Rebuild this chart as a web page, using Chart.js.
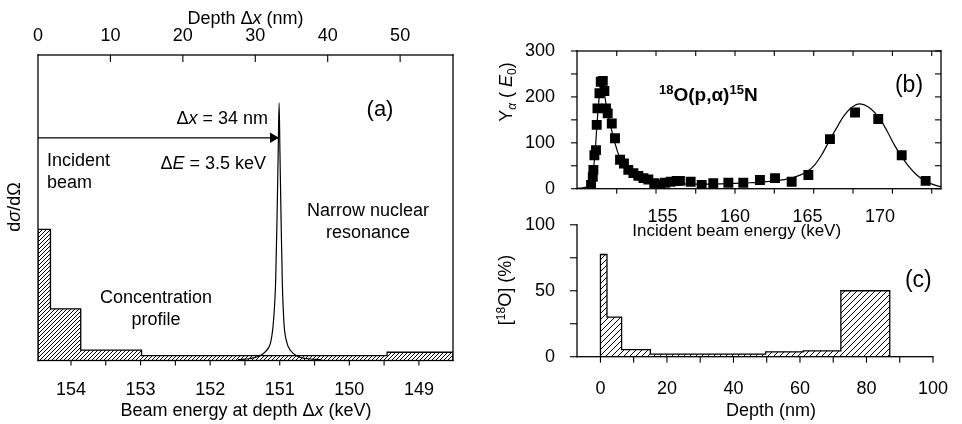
<!DOCTYPE html>
<html>
<head>
<meta charset="utf-8">
<script src="https://cdn.jsdelivr.net/npm/chart.js@4.4.1/dist/chart.umd.min.js"></script>
<style>
  body { margin: 0; background: #fff; }
  #wrap { position: relative; width: 962px; height: 424px; }
  canvas { position: absolute; }
  #chartA { left: 0; top: 0; }
  #chartB { left: 480px; top: 0; }
  #chartC { left: 480px; top: 200px; }
</style>
</head>
<body>
<div id="wrap">
  <canvas id="chartA" width="480" height="424"></canvas>
  <canvas id="chartB" width="482" height="245"></canvas>
  <canvas id="chartC" width="482" height="224"></canvas>
</div>
<script>
// ---------- data ----------

// (a) concentration profile in depth bins (nm), arbitrary units
var depthEdgesA = [0, 1.72, 5.9, 14.3, 48.2, 57.3];
var profileA = [42.9, 16.9, 3.4, 1.6, 2.7];
// (a) narrow resonance line vs beam energy (keV)
var resEnergyA = [151.6, 151.428, 151.313, 151.198, 151.126, 151.091, 151.059, 151.04, 151.022, 151.009,
                  150.997, 150.98, 150.963, 150.94, 150.904, 150.839, 150.739, 150.624, 150.4];
var resYieldA = [0.3, 0.65, 1.3, 3.1, 6.4, 12.6, 25.7, 45.3, 68.2, 84.3,
                 68.2, 45.3, 25.7, 12.6, 6.4, 3.1, 1.3, 0.65, 0.3];
var arrowDepthA = [0, 33.3];
var arrowLevelA = 72.9;
var arrowHeadA = 32.45;
var energyTicksA = [154, 153, 152, 151, 150, 149];
var energyMarksA = [154, 153.5, 153, 152.5, 152, 151.5, 151, 150.5, 150, 149.5, 149];
var depthTicksA = [0, 10, 20, 30, 40, 50];
var depthMarksA = [10, 20, 30, 40, 50];

// (b) measured alpha yield (points) and fit (line)
var beamE = [150.07, 150.19, 150.23, 150.30, 150.41, 150.46, 150.51, 150.65, 150.74, 150.88,
             150.99, 151.10, 151.22, 151.50, 151.72, 152.07, 152.34, 152.64, 152.99, 153.33,
             153.68, 154.02, 154.43, 154.83, 155.17, 155.56, 155.98, 156.20, 156.94, 157.70,
             158.50, 159.54, 160.57, 161.72, 162.76, 163.91, 165.06, 166.55, 168.28, 169.88,
             171.50, 173.15];
var yieldB = [8, 26, 41, 73, 84, 139, 175, 208, 233, 235,
              213, 175, 164, 142, 110, 63, 55, 41, 34, 28,
              23, 20, 12, 10, 13, 15, 17, 17, 15, 8,
              12, 13, 13, 19, 23, 15, 30, 108, 166, 152,
              73, 17];
var fitE = [149.1, 149.5, 149.8, 150.0, 150.2, 150.35, 150.5, 150.65, 150.8, 150.95,
            151.1, 151.3, 151.5, 151.75, 152.0, 152.5, 153.0, 153.5, 154.0, 154.5,
            155, 156, 157, 158, 159, 160, 161, 162, 163, 164,
            165, 165.5, 166, 166.5, 167, 167.5, 168, 168.6, 169.2, 170,
            170.5, 171, 171.5, 172, 172.5, 173, 173.5, 174.2];
var fitB = [1, 2, 5, 12, 35, 80, 150, 205, 225, 215,
            185, 152, 126, 96, 72, 48, 36, 28, 22, 17,
            14, 12, 10, 10, 10.5, 11.5, 13, 15, 18, 24,
            38, 52, 75, 104, 132, 158, 176, 185, 178, 152,
            125, 95, 70, 48, 31, 19, 11, 4];
var energyTicksB = [155, 160, 165, 170];
var energyMarksB = [151.84, 154.55, 157.29, 160, 162.71, 165.43, 168.14, 170.86, 173.57];
var yieldTicksB = [0, 100, 200, 300];
var yieldMarksB = [0, 50, 100, 150, 200, 250, 300];

// (c) 18O concentration depth profile
var depthEdgesC = [0, 1.96, 6.36, 15.0, 49.7, 61.0, 72.3, 87.0];
var conc18O = [77.5, 30, 5.4, 2.0, 3.7, 4.4, 50];
var depthTicksC = [0, 20, 40, 60, 80, 100];
var depthMarksC = [0, 10, 20, 30, 40, 50, 60, 70, 80, 90, 100];
var concTicksC = [0, 50, 100];
var concMarksC = [0, 25, 50, 75, 100];

// ---------- helpers ----------
var FONT = '"Liberation Sans", Arial, Helvetica, sans-serif';
Chart.defaults.font.family = FONT;
Chart.defaults.font.size = 18;
Chart.defaults.color = '#000';

function xy(xs, ys) {
    return xs.map(function (x, i) { return { x: x, y: ys[i] }; });
}

// stepped outline of a histogram, closed down to zero at both ends
function steps(edges, vals) {
    var pts = [{ x: edges[0], y: 0 }];
    vals.forEach(function (v, i) { pts.push({ x: edges[i], y: v }); });
    pts.push({ x: edges[edges.length - 1], y: 0 });
    return pts;
}

function hatch(step) {
    var c = document.createElement('canvas');
    c.width = c.height = step;
    var g = c.getContext('2d');
    g.strokeStyle = '#000';
    g.lineWidth = 1;
    g.beginPath();
    g.moveTo(0, step); g.lineTo(step, 0);
    g.moveTo(-1, 1); g.lineTo(1, -1);
    g.moveTo(step - 1, step + 1); g.lineTo(step + 1, step - 1);
    g.stroke();
    return g.createPattern(c, 'repeat');
}

function fixedTicks(vals) {
    return function (s) { s.ticks = vals.map(function (v) { return { value: v }; }); };
}

function axis(extra) {
    return Object.assign({
        type: 'linear',
        grid: { display: false },
        border: { display: false }
    }, extra);
}

// text with italic / super / subscript pieces
function drawRich(ctx, it) {
    var size = it.size || 18;
    ctx.save();
    ctx.translate(it.x, it.y);
    if (it.rot) ctx.rotate(it.rot * Math.PI / 180);
    var parts = it.t.map(function (seg) {
        var f = seg[1] || '';
        var small = f.indexOf('^') >= 0 || f.indexOf('_') >= 0;
        var sz = small ? Math.round(size * 0.68) : size;
        var font = (f.indexOf('i') >= 0 ? 'italic ' : '') + (it.bold ? 'bold ' : '') + sz + 'px ' + FONT;
        ctx.font = font;
        return { txt: seg[0], f: f, font: font, w: ctx.measureText(seg[0]).width };
    });
    var total = parts.reduce(function (s, p) { return s + p.w; }, 0);
    var x = it.align === 'left' ? 0 : it.align === 'right' ? -total : -total / 2;
    var base = size * 0.36;
    ctx.fillStyle = '#000';
    ctx.textBaseline = 'alphabetic';
    ctx.textAlign = 'left';
    parts.forEach(function (p) {
        ctx.font = p.font;
        var dy = base;
        if (p.f.indexOf('^') >= 0) dy -= size * 0.36;
        if (p.f.indexOf('_') >= 0) dy += size * 0.2;
        ctx.fillText(p.txt, x, dy);
        x += p.w;
    });
    ctx.restore();
}

// frame lines, tick marks (len > 0 outward, < 0 inward) and text labels
// the plot box is taken from the ends of the panel's own x / y scales
function decor(cfg) {
    return {
        id: 'decor',
        afterDraw: function (chart) {
            var ctx = chart.ctx;
            var xs = chart.scales[cfg.xAxis], ys = chart.scales[cfg.yAxis];
            var xa = xs.getPixelForValue(xs.min), xb = xs.getPixelForValue(xs.max);
            var ya = ys.getPixelForValue(ys.min), yb = ys.getPixelForValue(ys.max);
            var L = Math.min(xa, xb), R = Math.max(xa, xb);
            var T = Math.min(ya, yb), B = Math.max(ya, yb);
            var lw = 1.3, tw = 1.1;
            ctx.save();
            ctx.fillStyle = '#000';
            cfg.sides.forEach(function (side) {
                if (side === 'left') ctx.fillRect(L - lw / 2, T - lw / 2, lw, B - T + lw);
                if (side === 'right') ctx.fillRect(R - lw / 2, T - lw / 2, lw, B - T + lw);
                if (side === 'top') ctx.fillRect(L - lw / 2, T - lw / 2, R - L + lw, lw);
                if (side === 'bottom') ctx.fillRect(L - lw / 2, B - lw / 2, R - L + lw, lw);
            });
            cfg.marks.forEach(function (m) {
                var s = chart.scales[m.axis];
                m.values.forEach(function (v) {
                    var p = s.getPixelForValue(v);
                    if (m.side === 'bottom') ctx.fillRect(p - tw / 2, B, tw, m.len);
                    if (m.side === 'top') ctx.fillRect(p - tw / 2, T, tw, -m.len);
                    if (m.side === 'left') ctx.fillRect(L, p - tw / 2, -m.len, tw);
                    if (m.side === 'right') ctx.fillRect(R, p - tw / 2, m.len, tw);
                });
            });
            cfg.texts.forEach(function (t) { drawRich(ctx, t); });
            ctx.restore();
        }
    };
}

var common = {
    responsive: false,
    animation: false,
    events: [],
    plugins: { legend: { display: false }, tooltip: { enabled: false } }
};

// ---------- (a) ----------
new Chart(document.getElementById('chartA'), {
    type: 'scatter',
    data: {
        datasets: [
            {   // resonance line
                xAxisID: 'x', data: xy(resEnergyA, resYieldA), showLine: true,
                borderColor: '#000', borderWidth: 1.2, pointRadius: 0,
                cubicInterpolationMode: 'monotone'
            },
            {   // arrow shaft
                xAxisID: 'x2', data: xy(arrowDepthA, [arrowLevelA, arrowLevelA]), showLine: true,
                borderColor: '#000', borderWidth: 1.3, pointRadius: 0
            },
            {   // arrow head
                xAxisID: 'x2', data: [{ x: arrowHeadA, y: arrowLevelA }],
                pointStyle: 'triangle', rotation: 90, pointRadius: 6,
                backgroundColor: '#000', borderColor: '#000', borderWidth: 0
            },
            {   // concentration profile
                xAxisID: 'x2', data: steps(depthEdgesA, profileA), showLine: true, stepped: true,
                borderColor: '#000', borderWidth: 1.3, pointRadius: 0,
                fill: 'origin', backgroundColor: hatch(4)
            }
        ]
    },
    options: Object.assign({}, common, {
        layout: { padding: { left: 38, right: 27, top: 0, bottom: 0 } },
        scales: {
            x: axis({
                position: 'bottom', reverse: true, min: 148.51, max: 154.474,
                ticks: { padding: 11 }, afterBuildTicks: fixedTicks(energyTicksA),
                afterFit: function (s) { s.height = 63.5; }
            }),
            x2: axis({
                position: 'top', min: 0, max: 57.3,
                ticks: { padding: 0 }, afterBuildTicks: fixedTicks(depthTicksA),
                afterFit: function (s) { s.height = 55; }
            }),
            y: axis({ display: false, min: 0, max: 100 })
        }
    }),
    plugins: [decor({
        xAxis: 'x', yAxis: 'y',
        sides: ['left', 'right', 'top', 'bottom'],
        marks: [
            { axis: 'x', side: 'bottom', len: 5, values: energyMarksA },
            { axis: 'x2', side: 'top', len: -7, values: depthMarksA }
        ],
        texts: [
            { t: [['Depth Δ'], ['x', 'i'], [' (nm)']], x: 245.5, y: 17.5 },
            { t: [['Beam energy at depth Δ'], ['x', 'i'], [' (keV)']], x: 246, y: 410 },
            { t: [['d'], ['σ', 'i'], ['/dΩ']], x: 14, y: 207, rot: -90 },
            { t: [['Δ'], ['x', 'i'], [' = 34 nm']], x: 268, y: 118, align: 'right' },
            { t: [['Δ'], ['E', 'i'], [' = 3.5 keV']], x: 266, y: 163, align: 'right' },
            { t: [['Incident']], x: 47, y: 160, align: 'left' },
            { t: [['beam']], x: 47, y: 182, align: 'left' },
            { t: [['(a)']], x: 380, y: 108, size: 22 },
            { t: [['Narrow nuclear']], x: 368, y: 210 },
            { t: [['resonance']], x: 368, y: 231.5 },
            { t: [['Concentration']], x: 156, y: 297 },
            { t: [['profile']], x: 156, y: 318.5 }
        ]
    })]
});

// ---------- (b) ----------
new Chart(document.getElementById('chartB'), {
    type: 'scatter',
    data: {
        datasets: [
            {   // measured points
                data: xy(beamE, yieldB), pointStyle: 'rect', pointRadius: 7,
                backgroundColor: '#000', borderColor: '#000', borderWidth: 0
            },
            {   // fit
                data: xy(fitE, fitB), showLine: true, borderColor: '#000', borderWidth: 1.2,
                pointRadius: 0, cubicInterpolationMode: 'monotone'
            }
        ]
    },
    options: Object.assign({}, common, {
        layout: { padding: { left: 0, right: 21, top: 51, bottom: 0 } },
        scales: {
            x: axis({
                position: 'bottom', min: 149.1, max: 174.21,
                ticks: { padding: 9.5 }, afterBuildTicks: fixedTicks(energyTicksB),
                afterFit: function (s) { s.height = 56.3; }
            }),
            y: axis({
                position: 'left', min: 0, max: 300,
                ticks: { padding: 14 }, afterBuildTicks: fixedTicks(yieldTicksB),
                afterFit: function (s) { s.width = 97; }
            })
        }
    }),
    plugins: [decor({
        xAxis: 'x', yAxis: 'y',
        sides: ['left', 'right', 'top', 'bottom'],
        marks: [
            { axis: 'x', side: 'bottom', len: 5, values: energyMarksB },
            { axis: 'x', side: 'top', len: -5, values: energyMarksB },
            { axis: 'y', side: 'left', len: 6, values: yieldMarksB },
            { axis: 'y', side: 'right', len: -6, values: yieldMarksB }
        ],
        texts: [
            { t: [['Y'], ['α', 'i_'], [' ( '], ['E', 'i'], ['0', '_'], [')']], x: 26, y: 92, rot: -90 },
            { t: [['Incident beam energy (keV)']], x: 256.7, y: 229.8, size: 17 },
            { t: [['18', '^'], ['O(p,α)'], ['15', '^'], ['N']], x: 228.3, y: 94, size: 19, bold: true },
            { t: [['(b)']], x: 429, y: 84, size: 23 }
        ]
    })]
});

// ---------- (c) ----------
new Chart(document.getElementById('chartC'), {
    type: 'scatter',
    data: {
        datasets: [
            {
                data: steps(depthEdgesC, conc18O), showLine: true, stepped: true,
                borderColor: '#000', borderWidth: 1.3, pointRadius: 0,
                fill: 'origin', backgroundColor: hatch(6)
            }
        ]
    },
    options: Object.assign({}, common, {
        layout: { padding: { left: 0, right: 21, top: 19.9, bottom: 0 } },
        scales: {
            x: axis({
                position: 'bottom', min: -7.05, max: 100,
                ticks: { padding: 14 }, afterBuildTicks: fixedTicks(depthTicksC),
                afterFit: function (s) { s.height = 67.3; }
            }),
            y: axis({
                position: 'left', min: 0, max: 100,
                ticks: { padding: 14 }, afterBuildTicks: fixedTicks(concTicksC),
                afterFit: function (s) { s.width = 97; }
            })
        }
    }),
    plugins: [decor({
        xAxis: 'x', yAxis: 'y',
        sides: ['left', 'bottom'],
        marks: [
            { axis: 'x', side: 'bottom', len: 6, values: depthMarksC },
            { axis: 'y', side: 'left', len: 7, values: concMarksC }
        ],
        texts: [
            { t: [['['], ['18', '^'], ['O] (%)']], x: 25, y: 90, rot: -90 },
            { t: [['Depth (nm)']], x: 291, y: 209.8 },
            { t: [['(c)']], x: 438.3, y: 79, size: 23 }
        ]
    })]
});
</script>
</body>
</html>
